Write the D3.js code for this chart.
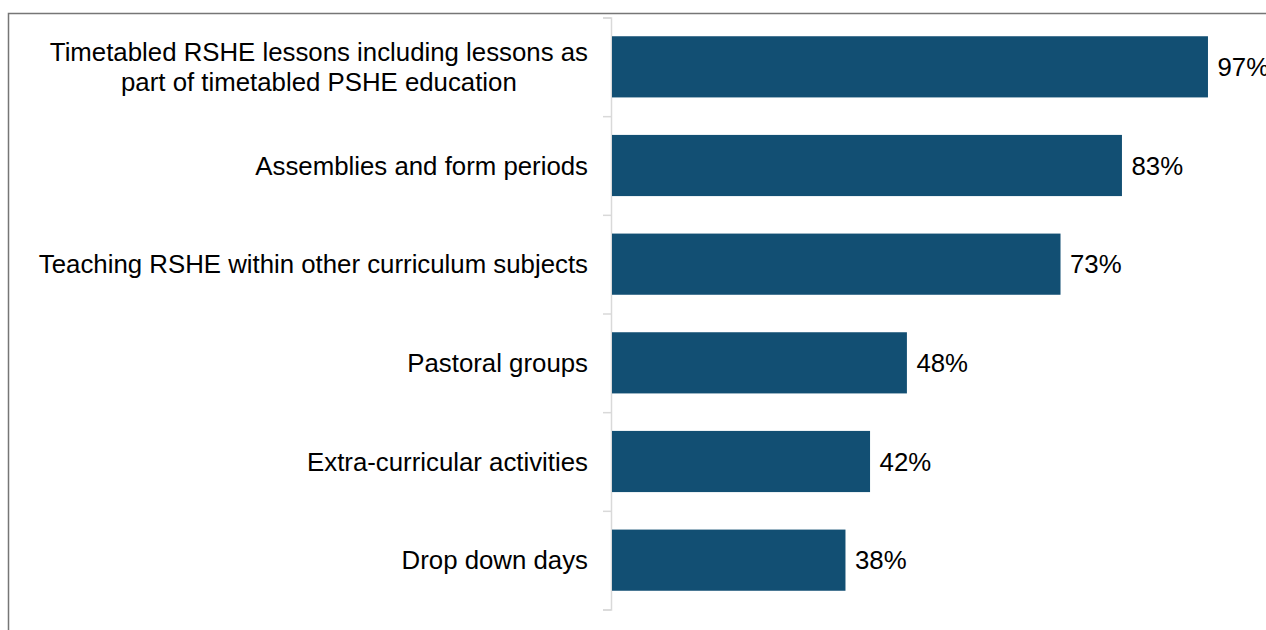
<!DOCTYPE html>
<html>
<head>
<meta charset="utf-8">
<script src="https://cdn.jsdelivr.net/npm/d3@7"></script>
<style>
  html, body { margin: 0; padding: 0; background: #fff; }
  svg { display: block; font-family: "Liberation Sans", Arial, sans-serif; }
</style>
</head>
<body>
<svg id="chart" width="1266" height="630"></svg>
<script>
// Delivery methods for RSHE and share of schools using each
const categories = [
  ["Timetabled RSHE lessons including lessons as", "part of timetabled PSHE education"],
  ["Assemblies and form periods"],
  ["Teaching RSHE within other curriculum subjects"],
  ["Pastoral groups"],
  ["Extra-curricular activities"],
  ["Drop down days"]
];
const values = [97, 83, 73, 48, 42, 38];
const valueLabels = ["97%", "83%", "73%", "48%", "42%", "38%"];

(function drawChart() {
  const svg = d3.select("#chart");
  const W = 1266, H = 630;
  const fontSize = 25.8;

  // outer frame (runs off the right and bottom edges)
  svg.append("rect")
    .attr("x", 8.5).attr("y", 13.5)
    .attr("width", W + 20).attr("height", H + 20)
    .attr("fill", "none").attr("stroke", "#767676").attr("stroke-width", 1.5);

  const axisX = 611, plotTop = 17.5, plotBottom = 609.5;

  const x = d3.scaleLinear().domain([0, 100]).range([axisX + 1, axisX + 1 + 614.4]);
  const y = d3.scaleBand().domain(d3.range(categories.length))
    .range([plotTop, plotBottom]).paddingInner(0.38).paddingOuter(0.19);

  // category axis with tick marks between the bands
  const axis = d3.axisLeft(d3.scaleLinear().domain([0, categories.length]).range([plotTop, plotBottom]))
    .ticks(categories.length).tickSize(8).tickFormat("");
  const gAxis = svg.append("g").attr("transform", `translate(${axisX},0)`).call(axis);
  gAxis.select(".domain").attr("stroke", "#d9d9d9").attr("stroke-width", 1.5);
  gAxis.selectAll(".tick line").attr("stroke", "#d9d9d9").attr("stroke-width", 1.5);

  // bars
  svg.append("g").selectAll("rect")
    .data(values)
    .join("rect")
    .attr("x", x(0))
    .attr("y", (d, i) => y(i))
    .attr("width", d => x(d) - x(0))
    .attr("height", y.bandwidth())
    .attr("fill", "#124f73");

  // value labels
  svg.append("g").selectAll("text")
    .data(values)
    .join("text")
    .attr("x", d => x(d) + 9.5)
    .attr("y", (d, i) => y(i) + y.bandwidth() / 2)
    .attr("dy", "0.35em")
    .attr("font-size", fontSize)
    .attr("fill", "#000")
    .text((d, i) => valueLabels[i]);

  // category labels: multi-line labels centred as a block, right-aligned to the axis
  const labelRight = 588, lineH = 29.5;
  categories.forEach((lines, i) => {
    const cy = y(i) + y.bandwidth() / 2;
    const t = svg.append("text")
      .attr("font-size", fontSize)
      .attr("fill", "#000")
      .attr("text-anchor", "middle");
    const spans = lines.map((ln, k) => t.append("tspan")
      .attr("y", cy + (k - (lines.length - 1) / 2) * lineH)
      .attr("dy", "0.35em")
      .text(ln));
    const maxW = d3.max(spans, s => s.node().getComputedTextLength());
    spans.forEach(s => s.attr("x", labelRight - maxW / 2));
  });
})();
</script>
</body>
</html>
